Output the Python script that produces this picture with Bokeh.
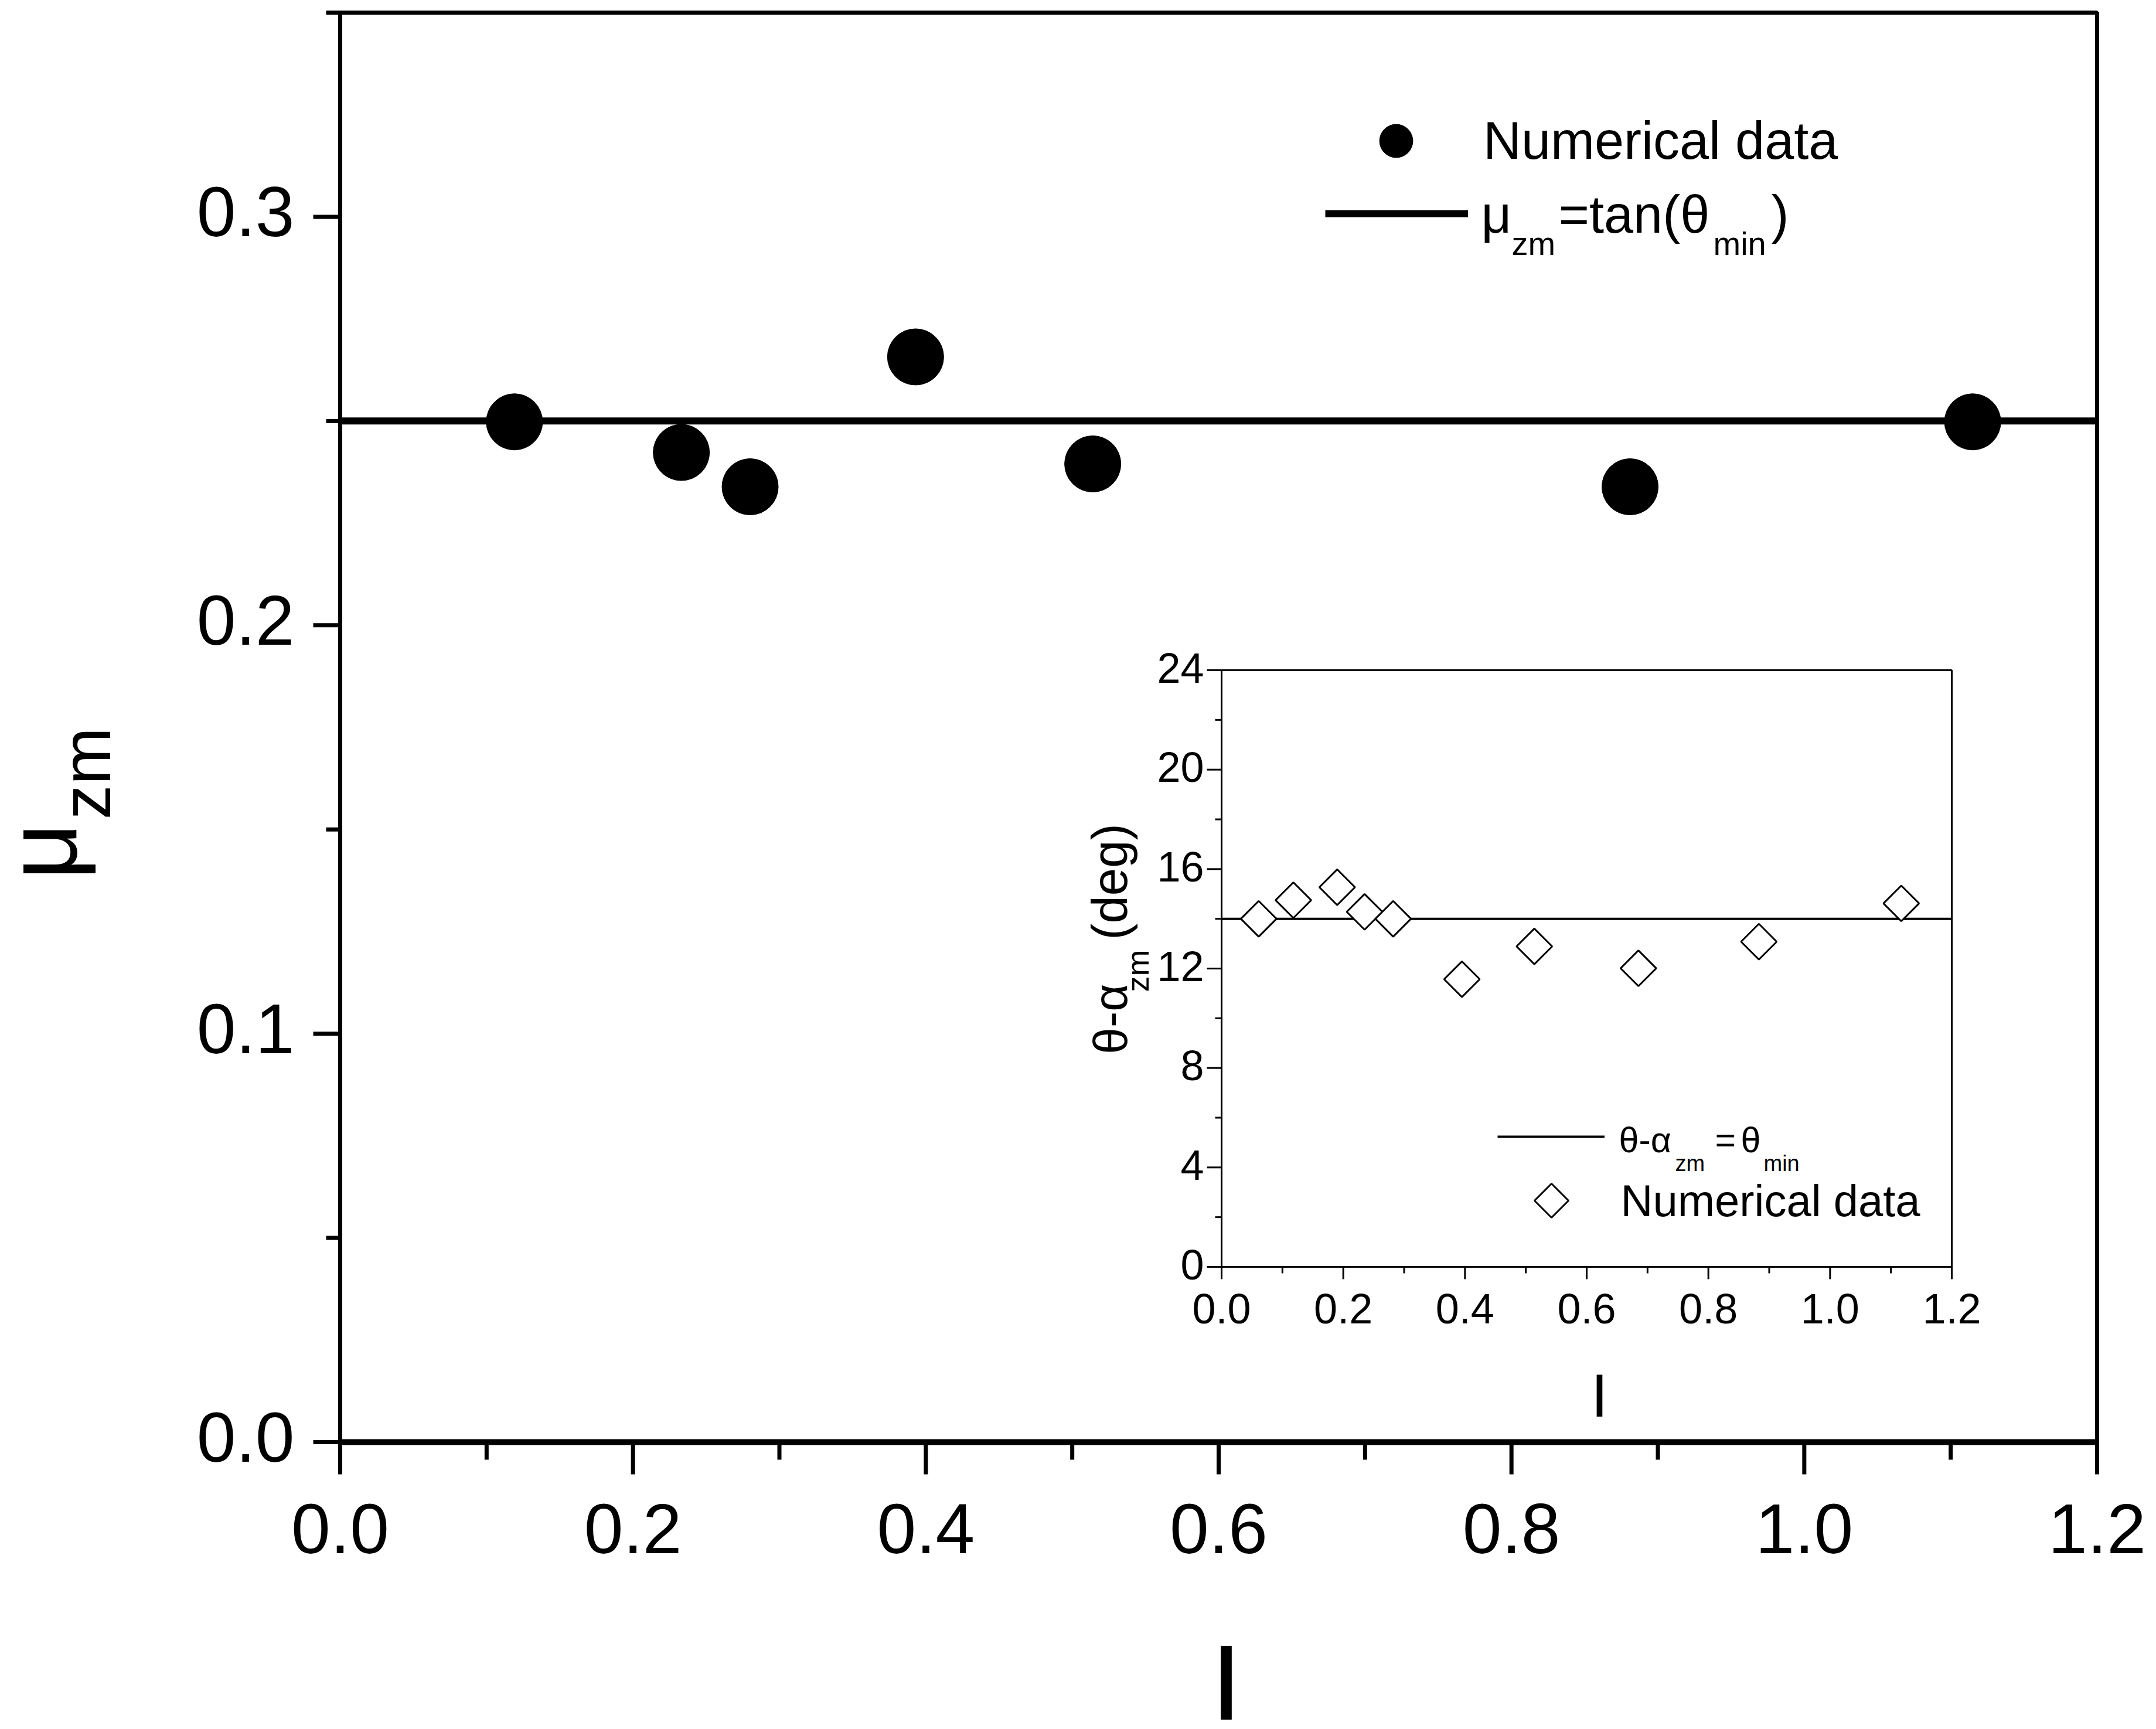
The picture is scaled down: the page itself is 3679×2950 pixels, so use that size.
import math
from bokeh.plotting import figure
from bokeh.models import Range1d, Legend, LegendItem
from bokeh.core.properties import value
from bokeh.embed import file_html
from bokeh.resources import INLINE

# ---------------- data ----------------
I_main = [0.119, 0.233, 0.280, 0.393, 0.514, 0.881, 1.115]
mu_zm = [0.2498, 0.2423, 0.2339, 0.2657, 0.2395, 0.2339, 0.2498]
mu_theory = 0.25

I_inset = [0.061, 0.118, 0.190, 0.235, 0.282, 0.395, 0.514, 0.685, 0.883, 1.117]
theta_alpha = [14.0, 14.75, 15.27, 14.28, 14.0, 11.57, 12.89, 12.01, 13.08, 14.62]
theta_min = 14.0

main_x_lim = [0.0, 1.2]
main_y_lim = [0.0, 0.35]
main_x_ticks = [0.0, 0.2, 0.4, 0.6, 0.8, 1.0, 1.2]
main_x_labels = ["0.0", "0.2", "0.4", "0.6", "0.8", "1.0", "1.2"]
main_x_minor = [0.1, 0.3, 0.5, 0.7, 0.9, 1.1]
main_y_ticks = [0.0, 0.1, 0.2, 0.3]
main_y_labels = ["0.0", "0.1", "0.2", "0.3"]
main_y_minor = [0.05, 0.15, 0.25, 0.35]

inset_x_lim = [0.0, 1.2]
inset_y_lim = [0.0, 24.0]
inset_x_ticks = [0.0, 0.2, 0.4, 0.6, 0.8, 1.0, 1.2]
inset_x_labels = ["0.0", "0.2", "0.4", "0.6", "0.8", "1.0", "1.2"]
inset_x_minor = [0.1, 0.3, 0.5, 0.7, 0.9, 1.1]
inset_y_ticks = [0, 4, 8, 12, 16, 20, 24]
inset_y_labels = ["0", "4", "8", "12", "16", "20", "24"]
inset_y_minor = [2, 6, 10, 14, 18, 22]

# ---------------- layout (page pixels) ----------------
CANVAS_L, CANVAS_T = 8, 8
FIG_W, FIG_H = 3663, 2934
CANVAS_R, CANVAS_B = CANVAS_L + FIG_W, CANVAS_T + FIG_H
FRAME_L, FRAME_R, FRAME_T, FRAME_B = 588, 3586, 29, 2468
INSET_L, INSET_R, INSET_T, INSET_B = 2092, 3338, 1151, 2169
FONT = "Liberation Sans"
BLACK = "black"


def mapped_range(lo, hi, p_lo, p_hi, c_lo, c_hi):
    k = (hi - lo) / (p_hi - p_lo)
    return Range1d(lo + (c_lo - p_lo) * k, lo + (c_hi - p_lo) * k)


p = figure(
    width=FIG_W, height=FIG_H, min_border=0,
    x_range=mapped_range(main_x_lim[0], main_x_lim[1], FRAME_L, FRAME_R, CANVAS_L, CANVAS_R),
    y_range=mapped_range(main_y_lim[0], main_y_lim[1], FRAME_B, FRAME_T, CANVAS_B, CANVAS_T),
    x_axis_location=None, y_axis_location=None, title=None,
    output_backend="svg", toolbar_location=None,
    background_fill_color="white", border_fill_color="white", outline_line_color=None,
)
p.grid.visible = False

p.extra_x_ranges = {
    "ix": mapped_range(inset_x_lim[0], inset_x_lim[1], INSET_L, INSET_R, CANVAS_L, CANVAS_R),
    "px": Range1d(CANVAS_L, CANVAS_R),
}
p.extra_y_ranges = {
    "iy": mapped_range(inset_y_lim[0], inset_y_lim[1], INSET_B, INSET_T, CANVAS_B, CANVAS_T),
    "py": Range1d(CANVAS_B, CANVAS_T),
}
IR = dict(x_range_name="ix", y_range_name="iy")
PG = dict(x_range_name="px", y_range_name="py")


def txt(x, y, text, size, align="center", angle=None, x_offset=0, y_offset=0, ranges=PG):
    kw = dict(x=x, y=y, text=text, x_offset=x_offset, y_offset=y_offset,
              text_align=align, text_baseline="middle", text_font=value(FONT),
              text_font_size=value(f"{size}px"), text_color=BLACK)
    if angle is not None:
        kw["angle"] = angle
    kw.update(ranges)
    p.text(**kw)


# ---------------- main axes ----------------
p.quad(left=[main_x_lim[0]], right=[main_x_lim[1]], bottom=[main_y_lim[0]], top=[main_y_lim[1]],
       fill_alpha=0, line_color=BLACK, line_width=7)
p.line(main_x_lim, [main_y_lim[0], main_y_lim[0]], line_color=BLACK, line_width=10)
p.ray(x=main_x_lim[0], y=main_y_ticks, length=46, length_units="screen", angle=math.pi,
      line_color=BLACK, line_width=7)
p.ray(x=main_x_lim[0], y=main_y_minor, length=24, length_units="screen", angle=math.pi,
      line_color=BLACK, line_width=7)
p.ray(x=main_x_ticks, y=main_y_lim[0], length=55, length_units="screen", angle=-math.pi / 2,
      line_color=BLACK, line_width=7)
p.ray(x=main_x_minor, y=main_y_lim[0], length=30, length_units="screen", angle=-math.pi / 2,
      line_color=BLACK, line_width=7)
txt(main_x_lim[0], main_y_ticks, main_y_labels, 120, align="right", x_offset=-78, y_offset=-8,
    ranges={})
txt(main_x_ticks, main_y_lim[0], main_x_labels, 120, align="center", y_offset=148, ranges={})

main_line = p.line(main_x_lim, [mu_theory, mu_theory], line_width=12, line_color=BLACK)
main_pts = p.scatter(I_main, mu_zm, marker="circle", size=96, fill_color=BLACK, line_color=BLACK)

# ---------------- inset ----------------
p.quad(left=[inset_x_lim[0]], right=[inset_x_lim[1]], bottom=[inset_y_lim[0]], top=[inset_y_lim[1]],
       fill_color="white", line_color=BLACK, line_width=3, **IR)
p.ray(x=inset_x_lim[0], y=inset_y_ticks, length=25, length_units="screen", angle=math.pi,
      line_color=BLACK, line_width=3, **IR)
p.ray(x=inset_x_lim[0], y=inset_y_minor, length=11, length_units="screen", angle=math.pi,
      line_color=BLACK, line_width=3, **IR)
p.ray(x=inset_x_ticks, y=inset_y_lim[0], length=21, length_units="screen", angle=-math.pi / 2,
      line_color=BLACK, line_width=3, **IR)
p.ray(x=inset_x_minor, y=inset_y_lim[0], length=11, length_units="screen", angle=-math.pi / 2,
      line_color=BLACK, line_width=3, **IR)
txt(inset_x_lim[0], inset_y_ticks, inset_y_labels, 72, align="right", x_offset=-30, y_offset=-4,
    ranges=IR)
txt(inset_x_ticks, inset_y_lim[0], inset_x_labels, 72, align="center", y_offset=71, ranges=IR)

in_line = p.line(inset_x_lim, [theta_min, theta_min], line_width=4, line_color=BLACK, **IR)
in_pts = p.scatter(I_inset, theta_alpha, marker="square", angle=math.pi / 4, size=43,
                   fill_color="white", line_color=BLACK, line_width=3, **IR)

# ---------------- legends ----------------
def lx(px):
    return px - CANVAS_L


def ly(py):
    return CANVAS_B - py


common = dict(padding=0, margin=0, spacing=0, border_line_alpha=0, background_fill_alpha=0,
              label_text_font=FONT, label_text_color=BLACK)
p.add_layout(Legend(items=[LegendItem(label="Numerical data", renderers=[main_pts])],
                    location=(lx(2319), ly(319)), glyph_width=142, glyph_height=142,
                    label_height=142, label_standoff=78, label_text_font_size="90px", **common))
p.add_layout(Legend(items=[LegendItem(label=" ", renderers=[main_line])],
                    location=(lx(2269), ly(392)), glyph_width=244, glyph_height=40,
                    label_height=40, label_standoff=0, label_text_font_size="10px", **common))
p.add_layout(Legend(items=[LegendItem(label=" ", renderers=[in_line])],
                    location=(lx(2563), ly(1967)), glyph_width=183, glyph_height=40,
                    label_height=40, label_standoff=0, label_text_font_size="10px", **common))

LEG_DIAMOND = dict(x=[2655], y=[2056])
p.scatter(x=LEG_DIAMOND["x"], y=LEG_DIAMOND["y"], marker="square", angle=math.pi / 4, size=41,
          fill_color="white", line_color=BLACK, line_width=3, **PG)
txt([2773], [2056], ["Numerical data"], 76, align="left")

# main legend formula
txt([2535], [373], ["μ"], 90, align="left")
txt([2587], [423], ["zm"], 56, align="left")
txt([2667], [373], ["=tan(θ"], 90, align="left")
txt([2931], [423], ["min"], 56, align="left")
txt([3030], [373], [")"], 90, align="left")

# inset legend formula
txt([2770], [1952], ["θ-α"], 61, align="left")
txt([2866], [1992], ["zm"], 38, align="left")
txt([2934], [1952], ["="], 61, align="left")
txt([2978], [1952], ["θ"], 61, align="left")
txt([3017], [1992], ["min"], 38, align="left")

# axis titles
txt([78], [1460], ["μ"], 170, angle=math.pi / 2)
txt([154], [1327], ["zm"], 118, angle=math.pi / 2)
txt([2100], [2884], ["I"], 200)

txt([1902], [1746], ["θ-α"], 82, angle=math.pi / 2)
txt([1948], [1664], ["zm"], 54, angle=math.pi / 2)
txt([1901], [1512], ["(deg)"], 85, angle=math.pi / 2)
txt([2737], [2388], ["I"], 104)

open("out.html", "w").write(file_html(p, INLINE))
